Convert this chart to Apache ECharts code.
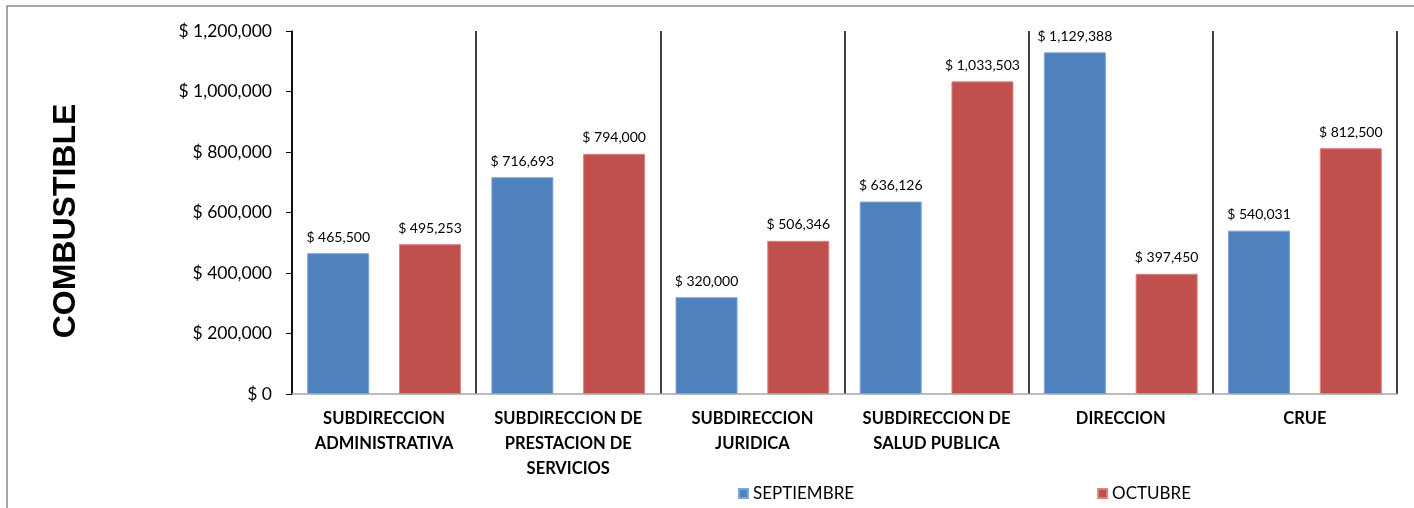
<!DOCTYPE html>
<html>
<head>
<meta charset="utf-8">
<script src="https://cdn.jsdelivr.net/npm/echarts@6/dist/echarts.min.js"></script>
<style>
  html, body { margin: 0; padding: 0; background: #fff; }
  #main { width: 1414px; height: 508px; }
</style>
</head>
<body>
<div id="main"></div>
<script>
  var categorias = [
    'SUBDIRECCION\nADMINISTRATIVA',
    'SUBDIRECCION DE\nPRESTACION DE\nSERVICIOS',
    'SUBDIRECCION\nJURIDICA',
    'SUBDIRECCION DE\nSALUD PUBLICA',
    'DIRECCION',
    'CRUE'
  ];
  var septiembre = [465500, 716693, 320000, 636126, 1129388, 540031];
  var octubre = [495253, 794000, 506346, 1033503, 397450, 812500];

  function pesos(v) {
    return '$ ' + Number(v).toLocaleString('en-US');
  }

  var fuente = 'Lato, "Open Sans", sans-serif';
  var myChart = echarts.init(document.getElementById('main'));
  myChart.setOption({
    animation: false,
    color: ['#4F81BD', '#C0504D'],
    grid: {
      left: 292,
      right: 17,
      top: 31,
      bottom: 114
    },
    graphic: [{
      type: 'rect',
      shape: { x: 7, y: 6, width: 1420, height: 520 },
      style: { fill: 'none', stroke: '#8c8c8c', lineWidth: 1.5 },
      silent: true
    }, {
      type: 'text',
      x: 66,
      y: 221,
      rotation: Math.PI / 2,
      style: {
        text: 'COMBUSTIBLE',
        font: 'bold 32px "Liberation Sans", Arial, sans-serif',
        fill: '#000',
        align: 'center',
        verticalAlign: 'middle'
      }
    }],
    legend: {
      left: 733,
      top: 480,
      icon: 'rect',
      itemWidth: 9,
      itemHeight: 9,
      itemGap: 243,
      textStyle: { fontFamily: fuente, fontSize: 17, color: '#000' },
      data: ['SEPTIEMBRE', 'OCTUBRE']
    },
    xAxis: {
      type: 'category',
      data: categorias,
      axisLine: { lineStyle: { color: '#a6a6a6', width: 1.5 } },
      axisTick: { show: false },
      splitLine: { show: true, lineStyle: { color: '#000', width: 1.5 } },
      axisLabel: {
        interval: 0,
        margin: 12,
        fontFamily: fuente,
        fontWeight: 'bold',
        fontSize: 16.5,
        lineHeight: 25,
        color: '#000'
      }
    },
    yAxis: {
      type: 'value',
      min: 0,
      max: 1200000,
      interval: 200000,
      axisLine: { show: true, lineStyle: { color: '#000', width: 1.5 } },
      axisTick: { show: true, length: 6, lineStyle: { color: '#000' } },
      splitLine: { show: false },
      axisLabel: {
        formatter: pesos,
        margin: 20,
        fontFamily: fuente,
        fontSize: 17.5,
        color: '#000'
      }
    },
    series: [{
      name: 'SEPTIEMBRE',
      type: 'bar',
      data: septiembre,
      barWidth: 62,
      barGap: '48%',
      itemStyle: { borderColor: '#7fa6d6', borderWidth: 1 },
      label: {
        show: true,
        position: 'top',
        distance: 9,
        formatter: function (p) { return pesos(p.value); },
        fontFamily: fuente,
        fontSize: 14,
        color: '#000'
      }
    }, {
      name: 'OCTUBRE',
      type: 'bar',
      data: octubre,
      barWidth: 62,
      barGap: '48%',
      itemStyle: { borderColor: '#d98583', borderWidth: 1 },
      label: {
        show: true,
        position: 'top',
        distance: 9,
        formatter: function (p) { return pesos(p.value); },
        fontFamily: fuente,
        fontSize: 14,
        color: '#000'
      }
    }]
  });
</script>
</body>
</html>
